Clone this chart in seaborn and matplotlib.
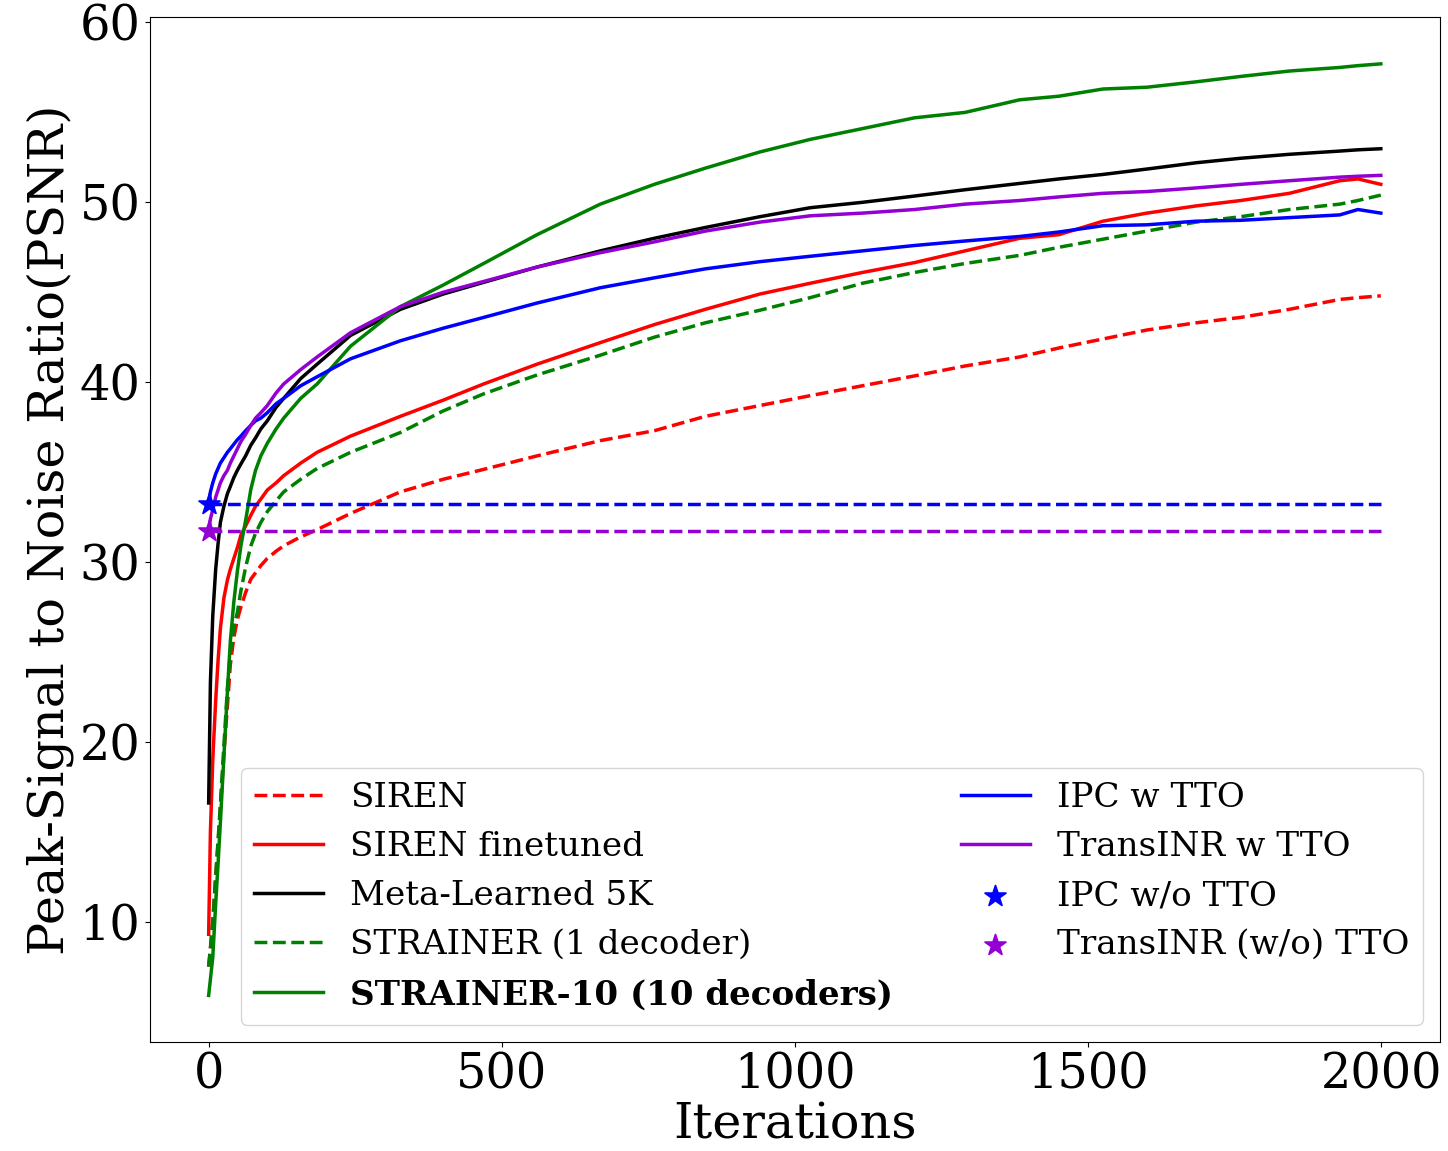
import numpy as np
import pandas as pd
import matplotlib
matplotlib.use("Agg")
import matplotlib.pyplot as plt
import seaborn as sns

# ---- data ----
iters = [0, 3, 7, 12, 16, 20, 26, 32, 37, 43, 49, 55, 63, 72, 80, 89, 100, 115, 128,
         157, 185, 242, 327, 400, 469, 560, 668, 760, 847, 940, 1026, 1115, 1204, 1290,
         1383, 1450, 1525, 1600, 1684, 1760, 1843, 1929, 1960, 1999]

siren = [7.5, 8.5, 10.0, 12.5, 14.3, 16.3, 19.3, 22.0, 24.3, 25.8, 26.8, 27.5, 28.3, 29.05,
         29.4, 29.8, 30.2, 30.6, 30.9, 31.4, 31.8, 32.7, 33.9, 34.6, 35.15, 35.9, 36.75,
         37.3, 38.1, 38.7, 39.25, 39.8, 40.35, 40.9, 41.4, 41.9, 42.4, 42.9, 43.3, 43.6,
         44.05, 44.6, 44.7, 44.8]
siren_ft = [9.3, 15.0, 19.0, 22.3, 24.5, 26.3, 28.0, 29.0, 29.6, 30.2, 30.8, 31.5, 32.0,
            32.6, 33.1, 33.5, 34.0, 34.4, 34.8, 35.5, 36.1, 37.0, 38.1, 39.0, 39.9, 41.0,
            42.2, 43.2, 44.05, 44.9, 45.5, 46.1, 46.65, 47.3, 48.0, 48.2, 48.95, 49.4, 49.8,
            50.1, 50.5, 51.2, 51.3, 51.0]
meta_5k = [16.6, 23.3, 27.0, 29.6, 31.0, 32.2, 33.1, 33.8, 34.2, 34.7, 35.1, 35.45, 35.9,
           36.5, 36.9, 37.4, 37.85, 38.6, 39.1, 40.2, 41.0, 42.6, 44.05, 44.9, 45.55, 46.4,
           47.3, 48.0, 48.6, 49.2, 49.7, 50.0, 50.35, 50.7, 51.05, 51.3, 51.55, 51.85, 52.2,
           52.45, 52.67, 52.85, 52.92, 52.98]
strainer_1 = [7.5, 8.5, 10.0, 12.5, 14.5, 16.5, 19.8, 23.0, 25.0, 26.4, 27.2, 28.4, 29.7,
              30.9, 31.6, 32.2, 32.8, 33.4, 33.9, 34.6, 35.2, 36.1, 37.2, 38.4, 39.35, 40.4,
              41.5, 42.5, 43.3, 44.0, 44.7, 45.5, 46.1, 46.6, 47.05, 47.5, 47.95, 48.4, 48.9,
              49.2, 49.6, 49.9, 50.1, 50.4]
strainer_10 = [5.9, 6.8, 8.0, 11.0, 13.2, 15.5, 19.2, 22.8, 25.6, 27.8, 29.5, 30.9, 32.3,
               34.05, 35.1, 35.9, 36.6, 37.4, 38.0, 39.1, 39.9, 42.0, 44.2, 45.4, 46.6, 48.2,
               49.9, 51.0, 51.9, 52.8, 53.5, 54.1, 54.7, 55.0, 55.7, 55.9, 56.3, 56.4, 56.7,
               57.0, 57.3, 57.5, 57.6, 57.7]
ipc_tto = [33.2, 33.9, 34.4, 34.9, 35.2, 35.5, 35.8, 36.1, 36.3, 36.55, 36.8, 37.0, 37.3,
           37.6, 37.85, 38.0, 38.3, 38.8, 39.1, 39.8, 40.3, 41.3, 42.3, 43.0, 43.6, 44.4,
           45.25, 45.8, 46.3, 46.7, 47.0, 47.3, 47.6, 47.85, 48.1, 48.35, 48.7, 48.75, 48.95,
           49.0, 49.15, 49.3, 49.6, 49.4]
transinr_tto = [31.7, 32.4, 32.9, 33.6, 34.0, 34.4, 34.8, 35.1, 35.5, 35.9, 36.3, 36.7,
                37.1, 37.6, 38.0, 38.3, 38.7, 39.4, 39.9, 40.7, 41.4, 42.75, 44.2, 45.0,
                45.6, 46.4, 47.2, 47.8, 48.4, 48.9, 49.25, 49.4, 49.6, 49.9, 50.1, 50.3,
                50.5, 50.6, 50.8, 51.0, 51.2, 51.4, 51.45, 51.5]

# single values without test-time optimisation
ipc_no_tto = 33.2
transinr_no_tto = 31.7
last_iter = 2000

curves = [
    ("SIREN", siren, "red", "--"),
    ("SIREN finetuned", siren_ft, "red", "-"),
    ("Meta-Learned 5K", meta_5k, "black", "-"),
    ("STRAINER (1 decoder)", strainer_1, "green", "--"),
    ("STRAINER-10 (10 decoders)", strainer_10, "green", "-"),
    ("IPC w TTO", ipc_tto, "blue", "-"),
    ("TransINR w TTO", transinr_tto, "darkviolet", "-"),
]

plt.rcParams['font.family'] = ['DejaVu Serif']

fig, ax = plt.subplots(figsize=(14.48, 11.51), dpi=100)
fig.subplots_adjust(left=0.1036, right=0.9945, top=0.985, bottom=0.0947)

for name, vals, color, ls in curves:
    sns.lineplot(x=iters, y=vals, color=color, linestyle=ls, linewidth=2.5,
                 label=name, ax=ax)

# horizontal reference lines for the no-TTO results
ax.hlines(ipc_no_tto, 0, last_iter, colors="blue", linestyles="--", linewidth=2.5)
ax.hlines(transinr_no_tto, 0, last_iter, colors="darkviolet", linestyles="--", linewidth=2.5)

sns.scatterplot(x=[0], y=[ipc_no_tto], marker="*", s=250, color="blue",
                edgecolor="blue", label="IPC w/o TTO", ax=ax, zorder=5)
sns.scatterplot(x=[0], y=[transinr_no_tto], marker="*", s=250, color="darkviolet",
                edgecolor="darkviolet", label="TransINR (w/o) TTO", ax=ax, zorder=5)

ax.set_xlabel("Iterations", fontsize=35.5, labelpad=2)
ax.set_ylabel("Peak-Signal to Noise Ratio(PSNR)", fontsize=35.5)
ax.set_xticks([0, 500, 1000, 1500, 2000])
ax.set_yticks([10, 20, 30, 40, 50, 60])
ax.tick_params(axis="both", labelsize=34.5)

leg = ax.legend(loc="lower right", ncol=2, fontsize=24.6)
for txt in leg.get_texts():
    if txt.get_text().startswith("STRAINER-10"):
        txt.set_fontweight("bold")

plt.savefig("out.png", dpi=100)
